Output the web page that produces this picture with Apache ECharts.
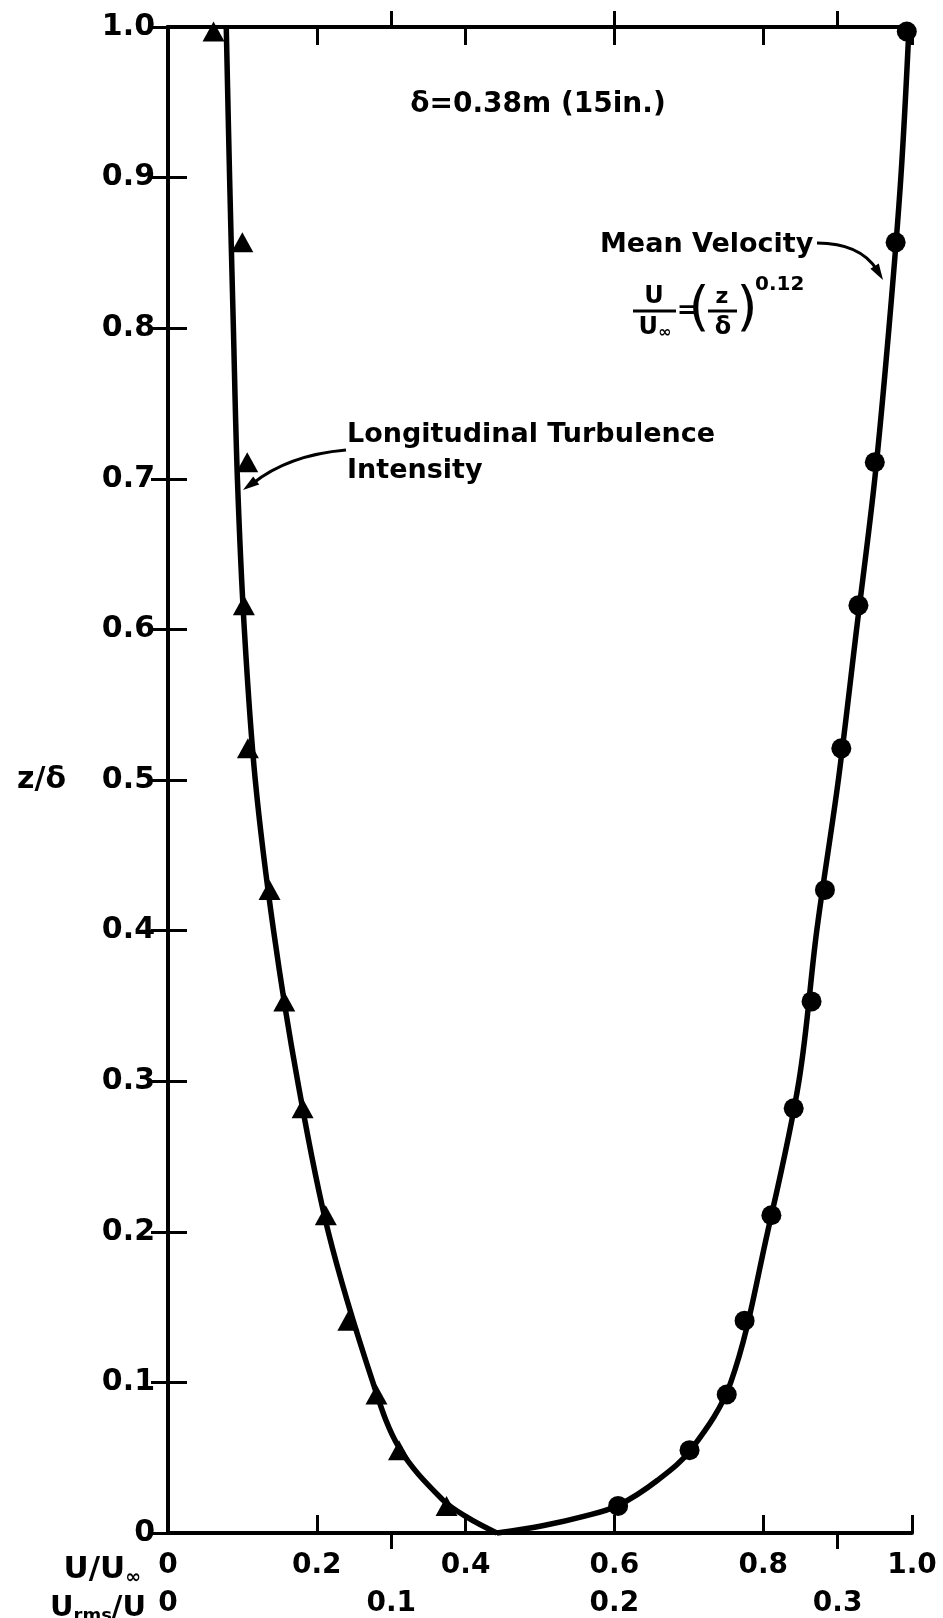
<!DOCTYPE html>
<html>
<head>
<meta charset="utf-8">
<script src="https://cdn.jsdelivr.net/npm/echarts/dist/echarts.min.js"></script>
<style>
    html, body {margin: 0; padding: 0; background: #fff;}
    #main {width: 943px; height: 1618px;}
</style>
</head>
<body>
<div id="main"></div>
<script>
// tick labels
const zLabels = ['0', '0.1', '0.2', '0.3', '0.4', '0.5', '0.6', '0.7', '0.8', '0.9', '1.0'];
const uLabels = ['0', '0.2', '0.4', '0.6', '0.8', '1.0'];
const rmsLabels = ['0', '0.1', '0.2', '0.3'];

// measured points (z/delta levels shared by both profiles)
const zPoints = [0.997, 0.857, 0.711, 0.616, 0.521, 0.427, 0.353, 0.282, 0.211, 0.141, 0.092, 0.055, 0.018];
const meanU = [0.993, 0.978, 0.950, 0.928, 0.905, 0.883, 0.865, 0.841, 0.811, 0.775, 0.751, 0.701, 0.605];
const turbRms = [0.0204, 0.0333, 0.0355, 0.034, 0.0358, 0.0455, 0.0521, 0.0603, 0.0707, 0.0808, 0.0934, 0.1035, 0.1248];

// faired curves
const turbCurveZ = [1.0, 0.9, 0.8, 0.7, 0.6, 0.5, 0.4, 0.3, 0.2, 0.1, 0.056, 0.022, 0.010, 0];
const turbCurveRms = [0.0261, 0.0276, 0.0293, 0.0311, 0.0342, 0.0391, 0.0473, 0.0581, 0.0718, 0.0918, 0.1038, 0.1231, 0.1345, 0.1473];
const meanCurveZ = [1.0, 0.9, 0.8, 0.7, 0.6, 0.5, 0.4, 0.3, 0.2, 0.1, 0.056, 0.035, 0.0183, 0.0112, 0.005, 0];
const meanCurveU = [0.996, 0.985, 0.969, 0.950, 0.9255, 0.901, 0.872, 0.848, 0.806, 0.7564, 0.704, 0.658, 0.605, 0.56, 0.505, 0.442];

const FONT = 'DejaVu Sans';
const pair = (xs, ys) => xs.map((x, i) => [x, ys[i]]);

const chart = echarts.init(document.getElementById('main'));

const lineAxis = {show: true, lineStyle: {color: '#000', width: 4}};
const noLine = {show: false};

const option = {
    backgroundColor: '#fff',
    animation: false,
    grid: {left: 168, right: 31, top: 27, bottom: 82, containLabel: false},
    xAxis: [
        { // U/U_inf, bottom
            type: 'value', position: 'bottom', min: 0, max: 1, interval: 0.2,
            axisLine: lineAxis,
            axisTick: {inside: true, length: 18, lineStyle: {color: '#000', width: 3}},
            axisLabel: {
                margin: 19, color: '#000', fontFamily: FONT, fontWeight: 'bold', fontSize: 28,
                formatter: v => uLabels[Math.round(v * 5)] || ''
            },
            splitLine: {show: false}
        },
        { // Urms/U, bottom
            type: 'value', position: 'bottom', min: 0, max: 1 / 3, interval: 0.1,
            axisLine: noLine,
            axisTick: {inside: false, length: 16, customValues: [0.1, 0.3], lineStyle: {color: '#000', width: 3}},
            axisLabel: {
                margin: 57, color: '#000', fontFamily: FONT, fontWeight: 'bold', fontSize: 28,
                customValues: [0, 0.1, 0.2, 0.3],
                formatter: v => (v > 0.32 ? '' : rmsLabels[Math.round(v * 10)] || '')
            },
            splitLine: {show: false}
        },
        { // top frame, U ticks
            type: 'value', position: 'top', min: 0, max: 1, interval: 0.2,
            axisLine: lineAxis,
            axisTick: {inside: true, length: 18, lineStyle: {color: '#000', width: 3}},
            axisLabel: {show: false},
            splitLine: {show: false}
        },
        { // top frame, Urms ticks
            type: 'value', position: 'top', min: 0, max: 1 / 3, interval: 0.1,
            axisLine: noLine,
            axisTick: {inside: false, length: 16, customValues: [0.1, 0.2, 0.3], lineStyle: {color: '#000', width: 3}},
            axisLabel: {show: false},
            splitLine: {show: false}
        }
    ],
    yAxis: [
        {
            type: 'value', position: 'left', min: 0, max: 1, interval: 0.1,
            name: 'z/δ', nameLocation: 'middle', nameRotate: 0, nameGap: 102,
            nameTextStyle: {color: '#000', fontFamily: FONT, fontWeight: 'bold', fontSize: 30},
            axisLine: lineAxis,
            axisTick: {inside: true, length: 19, lineStyle: {color: '#000', width: 3}},
            axisLabel: {
                margin: 13, color: '#000', fontFamily: FONT, fontWeight: 'bold', fontSize: 30,
                formatter: v => zLabels[Math.round(v * 10)]
            },
            splitLine: {show: false}
        },
        {
            type: 'value', position: 'right', min: 0, max: 1, interval: 0.1,
            axisLine: lineAxis,
            axisTick: {inside: true, length: 17, lineStyle: {color: '#000', width: 3}},
            axisLabel: {show: false},
            splitLine: {show: false}
        }
    ],
    series: [
        {
            name: 'Longitudinal Turbulence Intensity', type: 'line', xAxisIndex: 1, yAxisIndex: 0,
            data: pair(turbCurveRms, turbCurveZ), showSymbol: false, smooth: 0.35,
            lineStyle: {color: '#000', width: 5.5}, clip: false
        },
        {
            name: 'Mean Velocity', type: 'line', xAxisIndex: 0, yAxisIndex: 0,
            data: pair(meanCurveU, meanCurveZ), showSymbol: false, smooth: 0.35,
            lineStyle: {color: '#000', width: 5.5}, clip: false
        },
        {
            name: 'turbulence points', type: 'scatter', xAxisIndex: 1, yAxisIndex: 0,
            data: pair(turbRms, zPoints), symbol: 'triangle', symbolSize: [22, 20],
            itemStyle: {color: '#000', opacity: 1}
        },
        {
            name: 'velocity points', type: 'scatter', xAxisIndex: 0, yAxisIndex: 0,
            data: pair(meanU, zPoints), symbol: 'circle', symbolSize: 20,
            itemStyle: {color: '#000', opacity: 1}
        }
    ],
    graphic: [
        {type: 'text', x: 538, y: 105, style: {text: 'δ=0.38m (15in.)', font: 'bold 28px ' + FONT, fill: '#000', align: 'center', verticalAlign: 'middle'}},
        // mean velocity note
        {type: 'text', x: 600, y: 245, style: {text: 'Mean Velocity', font: 'bold 27px ' + FONT, fill: '#000', align: 'left', verticalAlign: 'middle'}},
        {type: 'text', x: 654, y: 297, style: {text: 'U', font: 'bold 24px ' + FONT, fill: '#000', align: 'center', verticalAlign: 'middle'}},
        {type: 'line', shape: {x1: 633, y1: 311, x2: 676, y2: 311}, style: {stroke: '#000', lineWidth: 3}},
        {type: 'text', x: 655, y: 328, style: {
            text: '{a|U}{b|∞}', fill: '#000', align: 'center', verticalAlign: 'middle',
            rich: {a: {font: 'bold 24px ' + FONT, lineHeight: 26}, b: {font: 'bold 16px ' + FONT, lineHeight: 16, verticalAlign: 'bottom'}}
        }},
        {type: 'text', x: 687, y: 312, style: {text: '=', font: 'bold 24px ' + FONT, fill: '#000', align: 'center', verticalAlign: 'middle'}},
        {type: 'text', x: 699, y: 311, style: {text: '(', font: '54px ' + FONT, fill: '#000', align: 'center', verticalAlign: 'middle'}},
        {type: 'text', x: 722, y: 297, style: {text: 'z', font: 'bold 22px ' + FONT, fill: '#000', align: 'center', verticalAlign: 'middle'}},
        {type: 'line', shape: {x1: 708, y1: 311, x2: 737, y2: 311}, style: {stroke: '#000', lineWidth: 3}},
        {type: 'text', x: 723, y: 328, style: {text: 'δ', font: 'bold 24px ' + FONT, fill: '#000', align: 'center', verticalAlign: 'middle'}},
        {type: 'text', x: 747, y: 311, style: {text: ')', font: '54px ' + FONT, fill: '#000', align: 'center', verticalAlign: 'middle'}},
        {type: 'text', x: 755, y: 285, style: {text: '0.12', font: 'bold 20px ' + FONT, fill: '#000', align: 'left', verticalAlign: 'middle'}},
        {type: 'bezierCurve', shape: {x1: 817, y1: 243, cpx1: 860, cpy1: 243, x2: 877, y2: 270}, style: {stroke: '#000', lineWidth: 3, fill: null}},
        {type: 'polygon', shape: {points: [[883, 280], [878.8, 263.4], [870.4, 268.8]]}, style: {fill: '#000'}},
        // turbulence note
        {type: 'text', x: 347, y: 435, style: {text: 'Longitudinal Turbulence', font: 'bold 27px ' + FONT, fill: '#000', align: 'left', verticalAlign: 'middle'}},
        {type: 'text', x: 347, y: 471, style: {text: 'Intensity', font: 'bold 27px ' + FONT, fill: '#000', align: 'left', verticalAlign: 'middle'}},
        {type: 'bezierCurve', shape: {x1: 346, y1: 450, cpx1: 288, cpy1: 455, x2: 252, y2: 484}, style: {stroke: '#000', lineWidth: 3, fill: null}},
        {type: 'polygon', shape: {points: [[243, 490], [259.2, 484.6], [253.2, 476.6]]}, style: {fill: '#000'}},
        // axis titles beside the bottom label rows
        {type: 'text', x: 141, y: 1570, style: {
            text: '{a|U/U}{b|∞}', fill: '#000', align: 'right', verticalAlign: 'middle',
            rich: {a: {font: 'bold 31px ' + FONT, lineHeight: 36}, b: {font: 'bold 19px ' + FONT, lineHeight: 19, verticalAlign: 'bottom'}}
        }},
        {type: 'text', x: 146, y: 1608, style: {
            text: '{a|U}{b|rms}{a|/U}', fill: '#000', align: 'right', verticalAlign: 'middle',
            rich: {a: {font: 'bold 29px ' + FONT, lineHeight: 34}, b: {font: 'bold 18px ' + FONT, lineHeight: 18, verticalAlign: 'bottom'}}
        }}
    ]
};

chart.setOption(option);
window.onresize = function () {
    chart.resize();
};
</script>
</body>
</html>
